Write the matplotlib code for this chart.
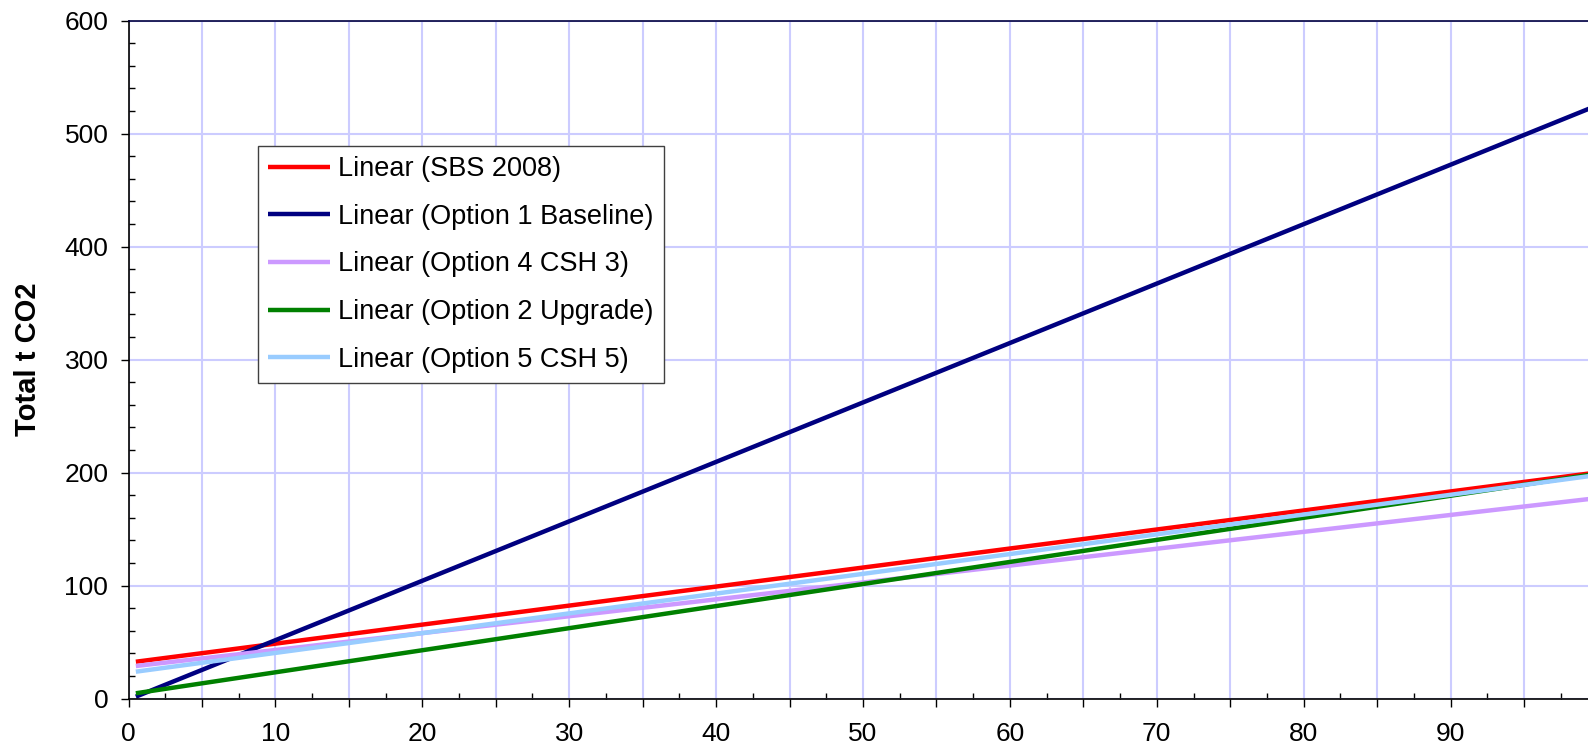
import numpy as np
import matplotlib.pyplot as plt
from matplotlib.ticker import MultipleLocator, FuncFormatter

plt.rcParams['font.family'] = ['Liberation Sans', 'DejaVu Sans']

# trendline end points (x from first point to axis end)
trend_x = [0.5, 100]
sbs_2008 = [32.7, 200.2]
option1_baseline = [1.8, 525.0]
option4_csh3 = [28.9, 177.5]
option2_upgrade = [4.8, 199.1]
option5_csh5 = [23.9, 197.9]

labels = ['Linear (SBS 2008)', 'Linear (Option 1 Baseline)', 'Linear (Option 4 CSH 3)',
          'Linear (Option 2 Upgrade)', 'Linear (Option 5 CSH 5)']
colors = ['#FF0000', '#000080', '#CC99FF', '#008000', '#99CCFF']
series = [sbs_2008, option1_baseline, option4_csh3, option2_upgrade, option5_csh5]

fig = plt.figure(figsize=(15.88, 7.51), dpi=100)
W, H = 1588, 751
x0, x1 = 128.5, 1597.5
y0, y1 = 698.7, 20.5
ax = fig.add_axes([x0 / W, 1 - y0 / H, (x1 - x0) / W, (y0 - y1) / H])

for vals, lab, c in zip(series, labels, colors):
    ax.plot(trend_x, vals, color=c, lw=3.2, label=lab, solid_capstyle='butt')

ax.set_xlim(0, 100)
ax.set_ylim(0, 600)


def xfmt(v, p):
    v = int(round(v))
    if v % 10 == 0 and v < 100:
        return '%d' % v
    return ''


ax.xaxis.set_major_locator(MultipleLocator(5))
ax.xaxis.set_minor_locator(MultipleLocator(2.5))
ax.xaxis.set_major_formatter(FuncFormatter(xfmt))
ax.yaxis.set_major_locator(MultipleLocator(100))
ax.yaxis.set_minor_locator(MultipleLocator(20))

ax.tick_params(axis='both', which='major', direction='out', length=5.5, width=1,
               labelsize=19, colors='black')
ax.tick_params(axis='both', which='minor', direction='in', length=4.5, width=1)
ax.tick_params(axis='x', which='major', pad=11)
ax.tick_params(axis='y', which='major', pad=9)

ax.grid(True, which='major', color='#CCCCFF', lw=1.5)
ax.set_axisbelow(True)

for s in ['left', 'bottom', 'top']:
    ax.spines[s].set_linewidth(1.2)
ax.spines['top'].set_color('#000040')

ax.set_ylabel('Total t CO2', fontsize=21, fontweight='bold')
ax.yaxis.set_label_coords(-0.0589, 0.5)

leg = ax.legend(loc='upper left', bbox_to_anchor=(258 / W, 1 - 146 / H),
                bbox_transform=fig.transFigure, borderaxespad=0, fontsize=19.5,
                frameon=True, fancybox=False, edgecolor='#404040', framealpha=1,
                handlelength=2.29, handletextpad=0.3, labelspacing=0.8, borderpad=0.37)
leg.get_frame().set_linewidth(1)

fig.savefig('out.png', dpi=100)
